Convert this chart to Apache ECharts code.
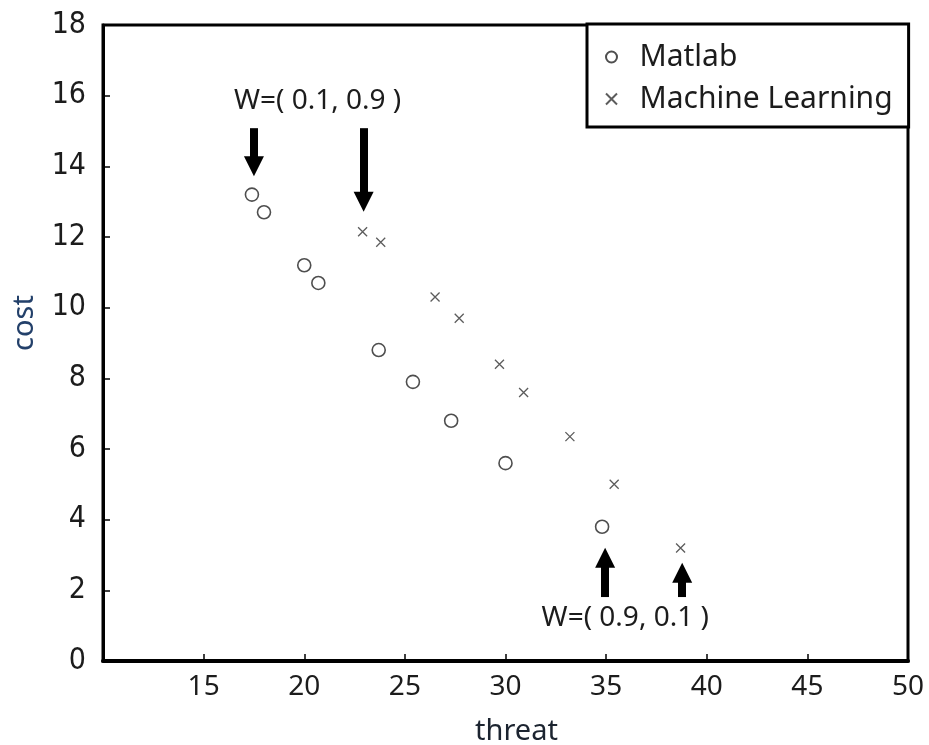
<!DOCTYPE html>
<html>
<head>
<meta charset="utf-8">
<script src="https://cdn.jsdelivr.net/npm/echarts@6/dist/echarts.min.js"></script>
<style>
    html, body { margin: 0; padding: 0; background: #fff; }
    #main { width: 929px; height: 745px; }
</style>
</head>
<body>
<div id="main"></div>
<script>
// 数据
var matlabThreat = [17.4, 18.0, 20.0, 20.7, 23.7, 25.4, 27.3, 30.0, 34.8];
var matlabCost = [13.2, 12.7, 11.2, 10.7, 8.8, 7.9, 6.8, 5.6, 3.8];
var mlThreat = [22.9, 23.8, 26.5, 27.7, 29.7, 30.9, 33.2, 35.4, 38.7];
var mlCost = [12.15, 11.85, 10.3, 9.7, 8.4, 7.6, 6.35, 5.0, 3.2];

// 标注箭头 [x, 起点y, 终点y]
var arrows = [[17.5, 15.08, 14.0], [22.95, 15.08, 13.0], [34.95, 1.81, 2.92], [38.78, 1.81, 2.5]];
var notes = [{ text: 'W=( 0.1, 0.9 )', x: 20.66, y: 15.85 }, { text: 'W=( 0.9, 0.1 )', x: 35.95, y: 1.22 }];

(function() {
    var myChart = echarts.init(document.getElementById('main'));

    function pairs(xs, ys) {
        return xs.map(function(x, i) { return [x, ys[i]]; });
    }

    var option = {
        backgroundColor: '#fff',
        animation: false,
        grid: {
            left: 103,
            right: 21,
            top: 25,
            bottom: 84,
            outerBoundsMode: 'none',
            show: true,
            borderColor: '#000',
            borderWidth: 3
        },
        legend: {
            data: ['Matlab', 'Machine Learning'],
            orient: 'vertical',
            left: 587,
            top: 24,
            padding: [17, 16, 12, 18],
            itemGap: 10,
            itemWidth: 46,
            itemHeight: 11,
            backgroundColor: '#fff',
            borderColor: '#000',
            borderWidth: 3,
            textStyle: {
                fontFamily: 'Noto Sans',
                fontSize: 30,
                lineHeight: 32,
                color: '#1c1c1c'
            }
        },
        xAxis: {
            type: 'value',
            min: 10,
            max: 50,
            interval: 5,
            name: 'threat',
            nameLocation: 'middle',
            nameGap: 56,
            nameTextStyle: {
                fontFamily: 'Noto Sans',
                fontSize: 29,
                color: '#1c2430',
                padding: [0, 0, 0, 22]
            },
            axisLine: { lineStyle: { color: '#000', width: 4 } },
            axisTick: { inside: true, length: 7, lineStyle: { color: '#000', width: 1.5 } },
            axisLabel: {
                showMinLabel: false,
                margin: 12,
                fontFamily: 'Noto Sans',
                fontSize: 28,
                color: '#1c1c1c'
            },
            splitLine: { show: false }
        },
        yAxis: {
            type: 'value',
            min: 0,
            max: 18,
            interval: 2,
            name: 'cost',
            nameLocation: 'middle',
            nameGap: 64,
            nameTextStyle: {
                fontFamily: 'Noto Sans',
                fontSize: 29,
                color: '#23406a',
                padding: [0, 0, 0, 40]
            },
            axisLine: { lineStyle: { color: '#000', width: 3 } },
            axisTick: { inside: true, length: 7, lineStyle: { color: '#000', width: 1.5 } },
            axisLabel: {
                margin: 17,
                fontFamily: 'DejaVu Sans Condensed',
                fontSize: 30,
                color: '#1c1c1c'
            },
            splitLine: { show: false }
        },
        series: [{
            name: 'Matlab',
            type: 'scatter',
            symbol: 'circle',
            symbolSize: 13,
            itemStyle: {
                color: 'rgba(255,255,255,0)',
                borderColor: '#222',
                borderWidth: 1.6
            },
            data: pairs(matlabThreat, matlabCost),
            z: 3
        }, {
            name: 'Machine Learning',
            type: 'scatter',
            symbol: 'path://M0,0L10,10M0,10L10,0',
            symbolSize: 9,
            itemStyle: {
                color: 'rgba(255,255,255,0)',
                borderColor: '#333',
                borderWidth: 1.3
            },
            data: pairs(mlThreat, mlCost),
            z: 3
        }, {
            // 箭头和文字标注
            name: 'notes',
            type: 'scatter',
            data: [],
            silent: true,
            markLine: {
                silent: true,
                symbol: ['none', 'triangle'],
                symbolSize: 20,
                label: { show: false },
                lineStyle: { color: '#000', width: 8, type: 'solid' },
                emphasis: { disabled: true },
                data: arrows.map(function(a) {
                    return [{ coord: [a[0], a[1]] }, { coord: [a[0], a[2]] }];
                })
            },
            markPoint: {
                silent: true,
                symbol: 'circle',
                symbolSize: 0,
                label: {
                    show: true,
                    position: 'inside',
                    fontFamily: 'Noto Sans',
                    fontSize: 28,
                    color: '#1c1c1c',
                    formatter: function(p) { return p.name; }
                },
                data: notes.map(function(n) {
                    return { name: n.text, coord: [n.x, n.y] };
                })
            }
        }]
    };

    myChart.setOption(option);

    window.addEventListener("resize", function() {
        myChart.resize();
    })
})();
</script>
</body>
</html>
